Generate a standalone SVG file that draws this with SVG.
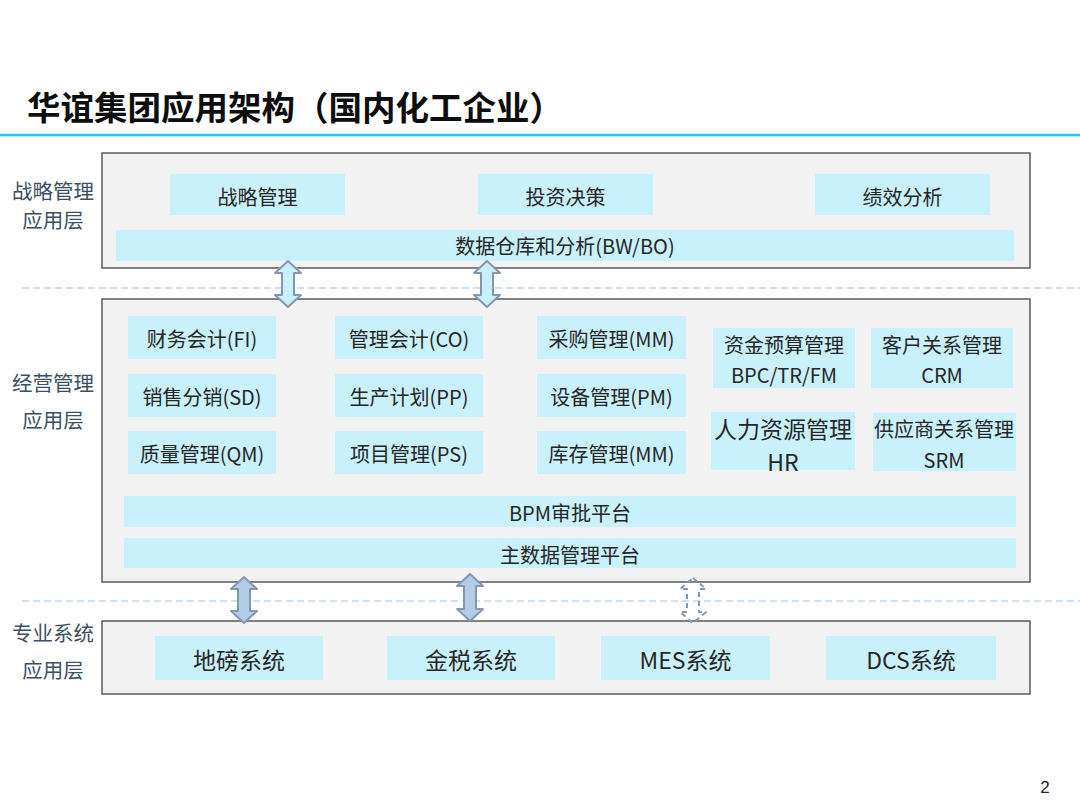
<svg xmlns="http://www.w3.org/2000/svg" width="1080" height="810" viewBox="0 0 1080 810">
<defs>
<style>
text{font-family:"Noto Sans CJK SC","Microsoft YaHei",sans-serif;}
.title{font-size:33.5px;font-weight:bold;fill:#0d0d0d;}
.layer{fill:#F2F2F2;stroke:#595959;stroke-width:1.5;}
.item{fill:#C9F1FB;}
.t{font-size:20px;fill:#262626;text-anchor:middle;dominant-baseline:central;}
.tb{font-size:23px;fill:#262626;text-anchor:middle;dominant-baseline:central;}
.lbl{font-size:20.5px;fill:#3E4F63;text-anchor:middle;dominant-baseline:central;}
.sep{stroke:#BDD7EE;stroke-width:1.5;stroke-dasharray:7 4;fill:none;}
.arrT{fill:#C9F1FB;stroke:#8497B0;stroke-width:2;stroke-linejoin:round;}
.arrB{fill:#B4CDE6;stroke:#8497B0;stroke-width:2;stroke-linejoin:round;}
.arrD{fill:none;stroke:#8497B0;stroke-width:2;stroke-dasharray:5 4;stroke-linejoin:round;}
</style>
</defs>
<rect width="1080" height="810" fill="#ffffff"/>
<g id="title">
<text class="title" x="27" y="120">华谊集团应用架构（国内化工企业）</text>
<line x1="0" y1="135" x2="1080" y2="135" stroke="#1EC8F0" stroke-width="2.5"/>
</g>
<g id="separators">
<line class="sep" x1="22" y1="288" x2="1080" y2="288"/>
<line class="sep" x1="22" y1="601" x2="1080" y2="601"/>
</g>
<g id="labels">
<text class="lbl" x="53" y="190">战略管理</text>
<text class="lbl" x="53" y="219">应用层</text>
<text class="lbl" x="53" y="382">经营管理</text>
<text class="lbl" x="53" y="419">应用层</text>
<text class="lbl" x="53" y="632">专业系统</text>
<text class="lbl" x="53" y="669">应用层</text>
</g>
<g id="layer-strategy">
<rect class="layer" x="102" y="153" width="928" height="115"/>
<g id="n-zlgl"><rect class="item" x="170" y="174" width="175" height="41"/><text class="t" x="257.5" y="196">战略管理</text></g>
<g id="n-tzjc"><rect class="item" x="478" y="174" width="175" height="41"/><text class="t" x="565.5" y="196">投资决策</text></g>
<g id="n-jxfx"><rect class="item" x="815" y="174" width="175" height="41"/><text class="t" x="902.5" y="196">绩效分析</text></g>
<g id="n-bw"><rect class="item" x="116" y="230" width="898" height="31"/><text class="t" x="565" y="245.5">数据仓库和分析(BW/BO)</text></g>
</g>
<g id="layer-business">
<rect class="layer" x="102" y="299" width="928" height="283"/>
<g id="n-fi"><rect class="item" x="128" y="316" width="148" height="43"/><text class="t" x="202" y="338">财务会计(FI)</text></g>
<g id="n-co"><rect class="item" x="335" y="316" width="148" height="43"/><text class="t" x="409" y="338">管理会计(CO)</text></g>
<g id="n-mm1"><rect class="item" x="537" y="316" width="149" height="43"/><text class="t" x="611.5" y="338">采购管理(MM)</text></g>
<g id="n-sd"><rect class="item" x="128" y="374" width="148" height="43"/><text class="t" x="202" y="396">销售分销(SD)</text></g>
<g id="n-pp"><rect class="item" x="335" y="374" width="148" height="43"/><text class="t" x="409" y="396">生产计划(PP)</text></g>
<g id="n-pm"><rect class="item" x="537" y="374" width="149" height="43"/><text class="t" x="611.5" y="396">设备管理(PM)</text></g>
<g id="n-qm"><rect class="item" x="128" y="431" width="148" height="43"/><text class="t" x="202" y="453">质量管理(QM)</text></g>
<g id="n-ps"><rect class="item" x="335" y="431" width="148" height="43"/><text class="t" x="409" y="453">项目管理(PS)</text></g>
<g id="n-mm2"><rect class="item" x="537" y="431" width="149" height="43"/><text class="t" x="611.5" y="453">库存管理(MM)</text></g>
<g id="n-bpc"><rect class="item" x="713" y="328" width="142" height="60"/><text class="t" x="784" y="344">资金预算管理</text><text class="t" x="784" y="374">BPC/TR/FM</text></g>
<g id="n-crm"><rect class="item" x="871" y="328" width="142" height="60"/><text class="t" x="942" y="344">客户关系管理</text><text class="t" x="942" y="374">CRM</text></g>
<g id="n-hr"><rect class="item" x="711" y="412" width="144" height="58"/><text class="tb" x="783" y="428">人力资源管理</text><text class="tb" x="783" y="461">HR</text></g>
<g id="n-srm"><rect class="item" x="873" y="413" width="143" height="58"/><text class="t" x="944" y="428">供应商关系管理</text><text class="t" x="944" y="459">SRM</text></g>
<g id="n-bpm"><rect class="item" x="124" y="496" width="892" height="31"/><text class="t" x="570" y="512">BPM审批平台</text></g>
<g id="n-mdm"><rect class="item" x="124" y="538" width="892" height="30"/><text class="t" x="570" y="554">主数据管理平台</text></g>
</g>
<g id="layer-special">
<rect class="layer" x="102" y="621" width="928" height="73"/>
<g id="n-db"><rect class="item" x="155" y="636" width="168" height="44"/><text class="tb" x="239" y="659">地磅系统</text></g>
<g id="n-js"><rect class="item" x="387" y="636" width="168" height="44"/><text class="tb" x="471" y="659">金税系统</text></g>
<g id="n-mes"><rect class="item" x="601" y="636" width="169" height="44"/><text class="tb" x="685.5" y="659">MES系统</text></g>
<g id="n-dcs"><rect class="item" x="826" y="636" width="170" height="44"/><text class="tb" x="911" y="659">DCS系统</text></g>
</g>
<g id="connectors">
<path class="arrT" d="M288,261 L301,273 L294,273 L294,295 L301,295 L288,307 L275,295 L282,295 L282,273 L275,273 Z"/>
<path class="arrT" d="M487,261 L500,273 L493,273 L493,295 L500,295 L487,307 L474,295 L481,295 L481,273 L474,273 Z"/>
<path class="arrB" d="M244,577 L257,589 L250,589 L250,611 L257,611 L244,623 L231,611 L238,611 L238,589 L231,589 Z"/>
<path class="arrB" d="M470,574 L483,586 L476,586 L476,609 L483,609 L470,621 L457,609 L464,609 L464,586 L457,586 Z"/>
<path class="arrD" d="M693,578 L706,589 L699,589 L699,612 L706,612 L693,623 L680,612 L687,612 L687,589 L680,589 Z"/>
</g>
<text x="1045" y="793" style="font-family:'Liberation Sans',sans-serif;font-size:17px;fill:#262626;text-anchor:middle">2</text>
</svg>
